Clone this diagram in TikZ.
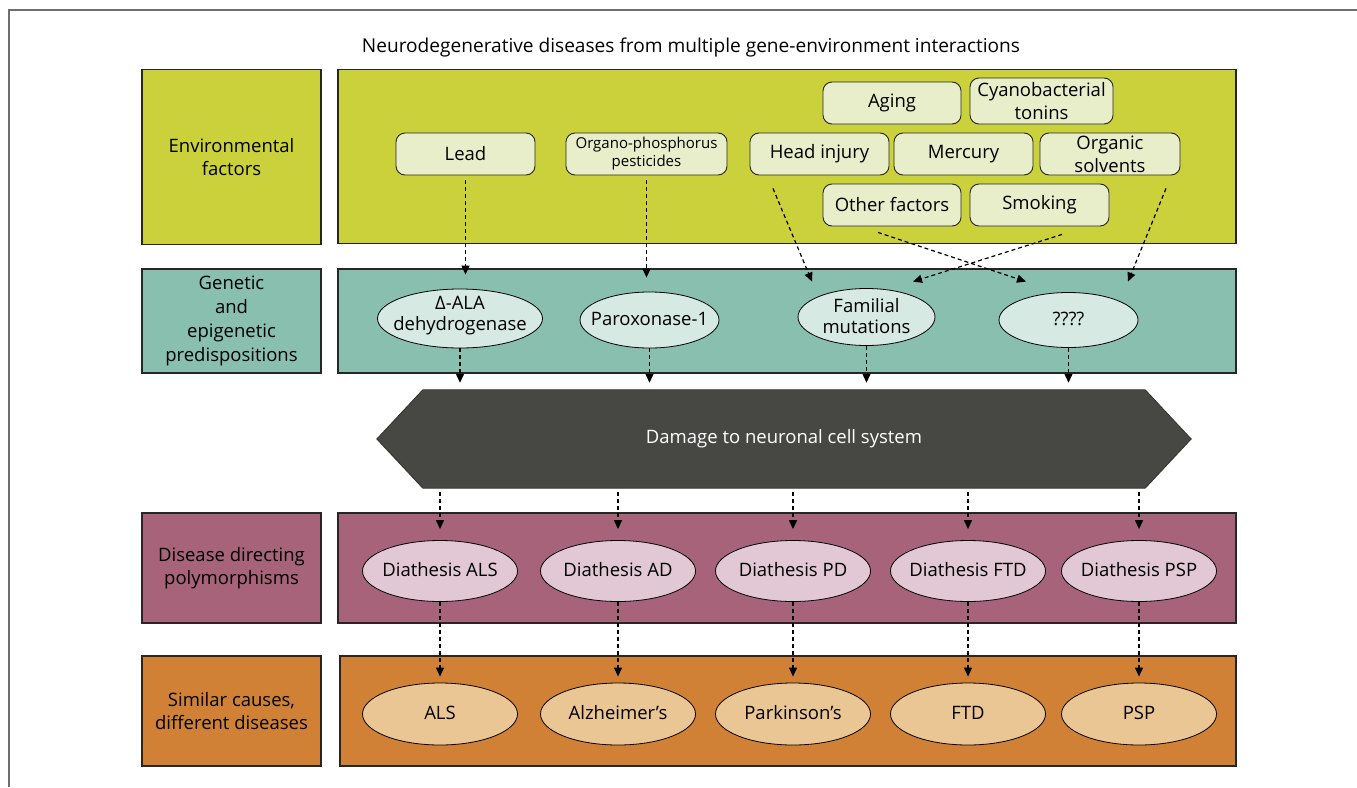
\documentclass[tikz,border=0pt]{standalone}
\usepackage{fontspec}
\setmainfont{Open Sans}
\usetikzlibrary{shapes.geometric,arrows.meta,backgrounds}
\definecolor{framec}{HTML}{6E6E6E}
\definecolor{bordc}{HTML}{262626}
\definecolor{envfill}{HTML}{CBD13B}
\definecolor{envbox}{HTML}{E8EEC9}
\definecolor{tealfill}{HTML}{88BFAE}
\definecolor{tealell}{HTML}{D6E9E3}
\definecolor{hexc}{HTML}{474843}
\definecolor{mauvefill}{HTML}{A66379}
\definecolor{mauveell}{HTML}{E1C8D4}
\definecolor{orangefill}{HTML}{D18136}
\definecolor{orangeell}{HTML}{EBC695}
\newcommand{\zt}[2][-0.32em]{\raisebox{#1}[0pt][0pt]{\makebox[0pt]{\fontsize{18.5}{21}\selectfont\begin{tabular}{@{}c@{}}#2\end{tabular}}}}
\tikzset{
  every node/.style={font=\fontsize{18.5}{23}\selectfont},
  labbox/.style={rectangle, draw=bordc, line width=1.4pt, inner sep=0pt, align=center, minimum width=179pt},
  mainbox/.style={rectangle, draw=bordc, line width=1.4pt, inner sep=0pt},
  rbox/.style={rectangle, rounded corners=9pt, draw=bordc, line width=0.9pt, fill=envbox, inner sep=0pt, align=center, minimum height=42pt},
  ell/.style={ellipse, draw=black, line width=0.8pt, inner sep=0pt},
  arr/.style={draw=black, line width=1.2pt, dash pattern=on 4pt off 3pt, -{Triangle[length=9pt,width=8pt]}},
}
\begin{document}
\begin{tikzpicture}[x=1pt,y=-1pt]
\useasboundingbox (0,0) rectangle (1357,787);
% frame
\draw[framec, line width=1.8pt] (9,787) -- (9,10) -- (1357,10);
% title
\node[font=\fontsize{19.1}{23}\selectfont] (title) at (691,47) {Neurodegenerative diseases from multiple gene-environment interactions};

% row 1: environmental
\node[labbox, fill=envfill, minimum height=175pt] (envlab) at (231.5,157) {Environmental\\factors};
\node[mainbox, fill=envfill, minimum width=898pt, minimum height=174pt] (envmain) at (787,156.5) {};
\node[rbox, minimum width=139pt] (lead) at (465.5,154) {Lead};
\node[rbox, minimum width=161pt, font=\fontsize{15}{18}\selectfont] (organo) at (646.5,154) {Organo-phosphorus\\pesticides};
\node[rbox, minimum width=138pt] (aging) at (892,103) {Aging};
\node[rbox, minimum width=143pt, minimum height=46pt] (cyano) at (1041.5,101) {Cyanobacterial\\tonins};
\node[rbox, minimum width=139pt] (head) at (819.5,154) {Head injury};
\node[rbox, minimum width=139pt] (mercury) at (963.5,154) {Mercury};
\node[rbox, minimum width=140pt] (organic) at (1110,154) {Organic\\solvents};
\node[rbox, minimum width=138pt] (other) at (892,205) {Other factors};
\node[rbox, minimum width=139pt] (smoking) at (1039.5,205) {Smoking};

% row 2: genetic
\node[labbox, fill=tealfill, minimum height=104pt, font=\fontsize{18.5}{24}\selectfont] (genlab) at (231.5,321) {Genetic\\and\\epigenetic\\predispositions};
\node[mainbox, fill=tealfill, minimum width=898pt, minimum height=104pt] (genmain) at (787,321) {};
\node[ell, fill=tealell, minimum width=165pt, minimum height=59pt] (dala) at (460,318.5) {\zt[-1.4pt]{Δ-ALA\\dehydrogenase}};
\node[ell, fill=tealell, minimum width=139pt, minimum height=56pt] (parox) at (649.5,320) {\zt{Paroxonase-1}};
\node[ell, fill=tealell, minimum width=137pt, minimum height=57pt] (fam) at (866.5,317) {\zt{Familial\\mutations}};
\node[ell, fill=tealell, minimum width=139pt, minimum height=55pt] (qqq) at (1068.5,320) {\zt{????}};

% damage hexagon
\node[inner sep=0pt, minimum width=814pt, minimum height=98pt, text=white] (dmg) at (784,439) {Damage to neuronal cell system};
\begin{pgfonlayer}{background}
\filldraw[fill=hexc, draw=hexc!70!black, line width=0.8pt] (dmg.west) -- ([xshift=46pt]dmg.north west) -- ([xshift=-46pt]dmg.north east) -- (dmg.east) -- ([xshift=-46pt]dmg.south east) -- ([xshift=46pt]dmg.south west) -- cycle;
\end{pgfonlayer}

% row 3: disease directing
\node[labbox, fill=mauvefill, minimum height=110pt] (dislab) at (231.5,568) {Disease directing\\polymorphisms};
\node[mainbox, fill=mauvefill, minimum width=898pt, minimum height=110pt] (dismain) at (787,568) {};
\tikzset{dell/.style={ell, fill=mauveell, minimum width=155pt, minimum height=61pt}}
\node[dell] (dals) at (440,571) {\zt{Diathesis ALS}};
\node[dell] (dad) at (618,571) {\zt{Diathesis AD}};
\node[dell] (dpd) at (793,571) {\zt{Diathesis PD}};
\node[dell] (dftd) at (968,571) {\zt{Diathesis FTD}};
\node[dell] (dpsp) at (1139,571) {\zt{Diathesis PSP}};

% row 4: diseases
\node[labbox, fill=orangefill, minimum height=110pt] (botlab) at (231.5,711) {Similar causes,\\different diseases};
\node[mainbox, fill=orangefill, minimum width=896pt, minimum height=110pt] (botmain) at (788,711) {};
\tikzset{oell/.style={ell, fill=orangeell, minimum width=155pt, minimum height=62pt}}
\node[oell] (als) at (440,714) {\zt{ALS}};
\node[oell] (ad) at (618,714) {\zt{Alzheimer’s}};
\node[oell] (pd) at (793,714) {\zt{Parkinson’s}};
\node[oell] (ftd) at (968,714) {\zt{FTD}};
\node[oell] (psp) at (1139,714) {\zt{PSP}};

% arrows env -> genetic
\draw[arr, shorten <=5pt, shorten >=14pt] (lead.south) -- (lead.south |- dala.north);
\draw[arr, shorten <=5pt, shorten >=14pt] (organo.south) -- (organo.south |- parox.north);
\draw[arr] ([xshift=-46.5pt,yshift=-13pt]head.south) -- ([xshift=-54.5pt,yshift=6.5pt]fam.north);
\draw[arr] ([xshift=-14pt,yshift=-6pt]other.south) -- ([xshift=-42.5pt,yshift=10.5pt]qqq.north);
\draw[arr] ([xshift=22.5pt,yshift=-8pt]smoking.south) -- ([xshift=46.5pt,yshift=6.5pt]fam.north);
\draw[arr] ([xshift=56pt,yshift=-13pt]organic.south) -- ([xshift=59.5pt,yshift=10.5pt]qqq.north);

% genetic -> damage
\foreach \n in {dala,parox,fam,qqq}
  \draw[arr, shorten >=7pt] (\n.south) -- (\n.south |- dmg.north);

% damage -> diathesis -> diseases
\foreach \a/\b in {dals/als,dad/ad,dpd/pd,dftd/ftd,dpsp/psp}{
  \draw[arr, shorten <=4pt, shorten >=11pt] (\a.north |- dmg.south) -- (\a.north);
  \draw[arr, shorten >=6pt] (\a.south) -- (\b.north);
}
\end{tikzpicture}
\end{document}
